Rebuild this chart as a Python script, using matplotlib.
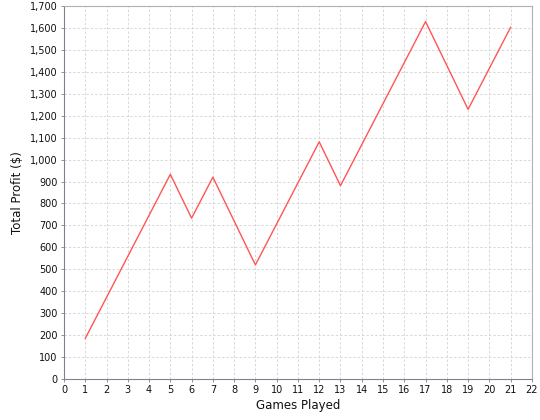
import matplotlib
matplotlib.use("Agg")
import matplotlib.pyplot as plt
from matplotlib.ticker import MultipleLocator, FuncFormatter

# data
games = [1, 2, 3, 4, 5, 6, 7, 8, 9, 10, 11, 12, 13, 14, 15, 16, 17, 18, 19, 20, 21]
profit = [185, 372, 559, 746, 933, 733, 920, 720, 520, 707, 894,
          1081, 881, 1068, 1255, 1442, 1629, 1429, 1229, 1416, 1603]

fig = plt.figure(figsize=(5.4, 4.2), dpi=100)
fig.set_facecolor("white")
ax = fig.add_axes([0.1185, 0.0976, 0.8665, 0.8881])
ax.set_facecolor("white")

ax.plot(games, profit, color="#ff5555", linewidth=1.0, zorder=3)

ax.set_xlim(0, 22)
ax.set_ylim(0, 1700)
ax.xaxis.set_major_locator(MultipleLocator(1))
ax.yaxis.set_major_locator(MultipleLocator(100))
ax.yaxis.set_major_formatter(FuncFormatter(lambda v, p: f"{int(v):,}"))

ax.grid(True, color="#d8d8d8", linestyle=(0, (2.5, 2)), linewidth=0.7)
ax.set_axisbelow(True)

for s in ["top", "right"]:
    ax.spines[s].set_color("#b0b0b0")
    ax.spines[s].set_linewidth(0.8)
for s in ["left", "bottom"]:
    ax.spines[s].set_color("#808090")
    ax.spines[s].set_linewidth(0.8)

ax.tick_params(axis="both", direction="out", length=2.5, width=0.6, color="#808090",
               labelsize=7, labelcolor="#111111", pad=2)

ax.set_xlabel("Games Played", fontsize=8.5, color="#111111", labelpad=3)
ax.set_ylabel("Total Profit ($)", fontsize=8.5, color="#111111", labelpad=4)

fig.savefig("out.png", dpi=100)
